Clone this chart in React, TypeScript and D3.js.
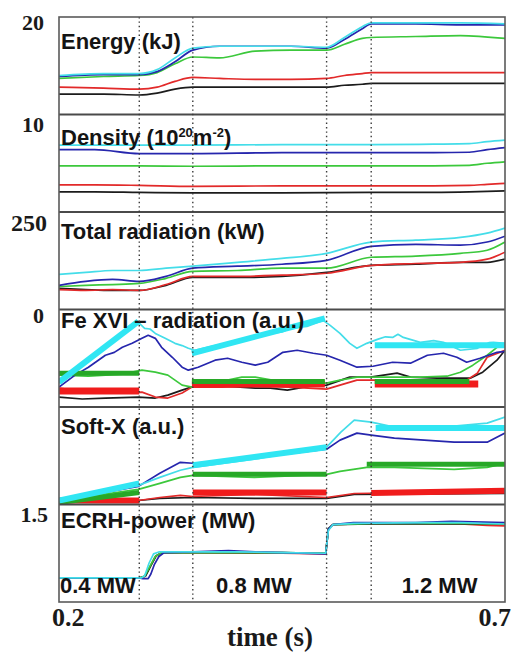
import React from 'react';
import * as d3 from 'd3';

type Pt = [number, number];

const W = 514;
const H = 653;
const LEFT = 59;
const RIGHT = 505;
const TOP = 17;
const BOTTOM = 602;

const colors: Record<string, string> = {
  black: '#1c1c1c',
  red: '#e22a2a',
  green: '#3cc83c',
  blue: '#2626ad',
  cyan: '#44dde9',
};
const fitColors: Record<string, string> = {
  red: '#f01c1c',
  green: '#27a827',
  cyan: '#30e6f3',
};

// markers of the heating phases (s)
const phaseTimes = [0.29, 0.35, 0.5, 0.55];

// ---- Energy (kJ)
const energyT = [0.2, 0.25, 0.29, 0.31, 0.33, 0.35, 0.38, 0.42, 0.46, 0.5, 0.52, 0.54, 0.55, 0.6, 0.65, 0.7];
const energyCyan = [14.0, 14.2, 14.2, 14.6, 15.8, 16.8, 17.0, 17.0, 17.0, 16.9, 17.9, 19.0, 19.4, 19.4, 19.4, 19.3];
const energyBlue = [13.9, 14.1, 14.1, 14.4, 15.4, 16.6, 17.0, 17.0, 17.0, 16.8, 17.7, 18.8, 19.3, 19.3, 19.2, 19.2];
const energyGreen = [13.7, 13.9, 14.0, 14.3, 15.2, 15.9, 15.8, 16.5, 16.6, 16.6, 17.2, 17.8, 17.9, 18.0, 18.1, 17.8];
const energyRed = [12.8, 12.7, 12.6, 12.8, 13.4, 13.8, 13.7, 13.6, 13.6, 13.7, 14.0, 14.2, 14.3, 14.3, 14.3, 14.3];
const energyBlack = [12.1, 12.1, 12.0, 12.2, 12.6, 12.8, 12.8, 12.8, 12.8, 12.8, 13.0, 13.1, 13.2, 13.2, 13.2, 13.2];

// ---- Density (10^20 m^-2)
const densityT = [0.2, 0.24, 0.29, 0.35, 0.45, 0.55, 0.62, 0.66, 0.68, 0.7];
const densityCyan = [6.86, 6.86, 6.86, 6.86, 6.91, 6.91, 6.96, 7.01, 7.22, 7.37];
const densityBlue = [6.39, 6.39, 5.98, 5.98, 6.08, 6.08, 6.08, 6.13, 6.39, 6.6];
const densityGreen = [4.74, 4.74, 4.74, 4.69, 4.74, 4.74, 4.74, 4.79, 5.0, 5.15];
const densityRed = [2.78, 2.78, 2.73, 2.63, 2.68, 2.68, 2.68, 2.73, 2.84, 2.94];
const densityBlack = [2.06, 2.06, 2.01, 1.96, 1.96, 2.01, 2.01, 2.06, 2.11, 2.16];

// ---- Total radiation (kW)
const radT = [0.2, 0.23, 0.26, 0.29, 0.32, 0.35, 0.4, 0.45, 0.5, 0.55, 0.6, 0.65, 0.68, 0.7];
const radCyan = [90, 95, 100, 100, 106, 111, 121, 131, 144, 173, 178, 185, 196, 209];
const radBlue = [62, 72, 77, 72, 85, 106, 111, 116, 126, 162, 167, 165, 173, 188];
const radGreen = [59, 62, 64, 67, 80, 98, 100, 106, 106, 134, 137, 144, 152, 173];
const radRed = [51, 49, 51, 49, 64, 85, 85, 88, 93, 113, 118, 121, 129, 147];
const radBlack = [54, 51, 49, 49, 62, 82, 82, 85, 95, 113, 116, 121, 121, 129];

// ---- Fe XVI radiation (a.u.)
const feCyan: Pt[] = [[0.2, 0.245], [0.289, 0.867], [0.296, 0.806], [0.302, 0.8], [0.308, 0.755], [0.319, 0.704], [0.33, 0.653], [0.338, 0.63], [0.345, 0.602], [0.352, 0.582], [0.37, 0.62], [0.392, 0.663], [0.42, 0.735], [0.437, 0.755], [0.45, 0.77], [0.459, 0.806], [0.478, 0.827], [0.496, 0.888], [0.504, 0.837], [0.515, 0.755], [0.526, 0.653], [0.534, 0.602], [0.545, 0.653], [0.557, 0.694], [0.566, 0.72], [0.574, 0.714], [0.58, 0.745], [0.586, 0.714], [0.605, 0.663], [0.62, 0.68], [0.631, 0.663], [0.65, 0.582], [0.669, 0.602], [0.682, 0.66], [0.687, 0.663], [0.7, 0.653]];
const feBlue: Pt[] = [[0.2, 0.204], [0.218, 0.327], [0.233, 0.408], [0.252, 0.531], [0.262, 0.56], [0.271, 0.612], [0.282, 0.653], [0.293, 0.704], [0.3, 0.735], [0.308, 0.704], [0.315, 0.612], [0.327, 0.51], [0.338, 0.408], [0.345, 0.378], [0.356, 0.408], [0.375, 0.48], [0.389, 0.5], [0.405, 0.459], [0.42, 0.429], [0.434, 0.459], [0.451, 0.561], [0.467, 0.582], [0.485, 0.551], [0.5, 0.531], [0.515, 0.48], [0.534, 0.408], [0.552, 0.418], [0.574, 0.459], [0.594, 0.449], [0.613, 0.531], [0.631, 0.551], [0.646, 0.51], [0.657, 0.459], [0.672, 0.5], [0.691, 0.561], [0.7, 0.571]];
const feGreen: Pt[] = [[0.2, 0.327], [0.233, 0.316], [0.271, 0.337], [0.293, 0.378], [0.308, 0.357], [0.322, 0.327], [0.338, 0.224], [0.349, 0.204], [0.36, 0.255], [0.389, 0.276], [0.405, 0.306], [0.42, 0.306], [0.439, 0.276], [0.47, 0.265], [0.5, 0.245], [0.515, 0.276], [0.534, 0.306], [0.568, 0.306], [0.605, 0.306], [0.635, 0.316], [0.65, 0.357], [0.664, 0.429], [0.68, 0.531], [0.691, 0.612], [0.7, 0.653]];
const feRed: Pt[] = [[0.2, 0.194], [0.233, 0.153], [0.271, 0.143], [0.293, 0.153], [0.308, 0.102], [0.322, 0.092], [0.338, 0.143], [0.349, 0.204], [0.383, 0.204], [0.42, 0.214], [0.459, 0.204], [0.5, 0.184], [0.515, 0.224], [0.534, 0.276], [0.582, 0.276], [0.627, 0.276], [0.657, 0.276], [0.669, 0.347], [0.68, 0.51], [0.7, 0.582]];
const feBlack: Pt[] = [[0.2, 0.102], [0.226, 0.082], [0.252, 0.092], [0.289, 0.102], [0.308, 0.092], [0.322, 0.122], [0.338, 0.173], [0.352, 0.214], [0.386, 0.214], [0.42, 0.194], [0.437, 0.194], [0.456, 0.173], [0.481, 0.214], [0.5, 0.224], [0.526, 0.306], [0.549, 0.306], [0.579, 0.347], [0.594, 0.306], [0.624, 0.296], [0.661, 0.296], [0.675, 0.357], [0.691, 0.48], [0.7, 0.582]];
// straight-line fits: [t0, v0, t1, v1]
const feFitCyan = [[0.2, 0.255, 0.289, 0.878], [0.349, 0.551, 0.498, 0.908], [0.554, 0.633, 0.7, 0.633]];
const feFitGreen = [[0.2, 0.347, 0.29, 0.347], [0.349, 0.262, 0.498, 0.262], [0.554, 0.262, 0.66, 0.262]];
const feFitRed = [[0.2, 0.163, 0.29, 0.163], [0.349, 0.236, 0.498, 0.236], [0.554, 0.236, 0.67, 0.236]];

// ---- Soft-X (a.u.)
const sxCyan: Pt[] = [[0.2, 0.041], [0.289, 0.196], [0.313, 0.278], [0.336, 0.351], [0.35, 0.381], [0.425, 0.474], [0.5, 0.588], [0.516, 0.742], [0.531, 0.866], [0.55, 0.845], [0.576, 0.794], [0.643, 0.804], [0.68, 0.835], [0.7, 0.897]];
const sxBlue: Pt[] = [[0.2, 0.041], [0.289, 0.186], [0.313, 0.32], [0.336, 0.433], [0.35, 0.423], [0.395, 0.454], [0.425, 0.485], [0.5, 0.567], [0.515, 0.66], [0.534, 0.732], [0.55, 0.711], [0.576, 0.68], [0.643, 0.639], [0.68, 0.639], [0.7, 0.732]];
const sxGreen: Pt[] = [[0.2, 0.041], [0.289, 0.155], [0.313, 0.216], [0.336, 0.278], [0.35, 0.299], [0.419, 0.278], [0.5, 0.309], [0.515, 0.34], [0.545, 0.381], [0.576, 0.381], [0.643, 0.361], [0.68, 0.381], [0.7, 0.423]];
const sxRed: Pt[] = [[0.2, 0.021], [0.289, 0.041], [0.313, 0.072], [0.336, 0.093], [0.35, 0.082], [0.419, 0.103], [0.5, 0.072], [0.531, 0.113], [0.7, 0.134]];
const sxBlack: Pt[] = [[0.2, 0.021], [0.289, 0.041], [0.313, 0.062], [0.35, 0.072], [0.419, 0.062], [0.5, 0.062], [0.531, 0.103], [0.7, 0.113]];
const sxFitCyan = [[0.2, 0.041, 0.29, 0.216], [0.35, 0.402, 0.5, 0.588], [0.555, 0.784, 0.7, 0.784]];
const sxFitGreen = [[0.2, 0.02, 0.29, 0.124], [0.35, 0.309, 0.5, 0.309], [0.545, 0.412, 0.7, 0.412]];
const sxFitRed = [[0.2, 0.041, 0.29, 0.041], [0.35, 0.124, 0.5, 0.124], [0.55, 0.118, 0.7, 0.14]];

// ---- ECRH power (MW)
const ecrhCyan: Pt[] = [[0.2, 0.37], [0.25, 0.37], [0.292, 0.37], [0.296, 0.4], [0.301, 0.6], [0.306, 0.74], [0.312, 0.77], [0.35, 0.77], [0.4, 0.77], [0.45, 0.76], [0.499, 0.75], [0.502, 1.1], [0.507, 1.19], [0.53, 1.21], [0.6, 1.22], [0.65, 1.22], [0.7, 1.2]];
const ecrhBlue: Pt[] = [[0.2, 0.37], [0.25, 0.37], [0.29, 0.37], [0.294, 0.36], [0.3, 0.36], [0.303, 0.43], [0.307, 0.58], [0.312, 0.7], [0.318, 0.76], [0.35, 0.77], [0.39, 0.79], [0.42, 0.77], [0.45, 0.76], [0.499, 0.74], [0.502, 1.12], [0.507, 1.19], [0.53, 1.22], [0.6, 1.22], [0.64, 1.24], [0.7, 1.22]];
const ecrhGreen: Pt[] = [[0.2, 0.37], [0.29, 0.37], [0.296, 0.4], [0.302, 0.55], [0.308, 0.7], [0.315, 0.76], [0.35, 0.76], [0.45, 0.76], [0.499, 0.75], [0.502, 1.12], [0.507, 1.19], [0.55, 1.21], [0.65, 1.21], [0.7, 1.2]];
const ecrhRed: Pt[] = [[0.2, 0.37], [0.29, 0.37], [0.296, 0.39], [0.302, 0.54], [0.308, 0.7], [0.315, 0.76], [0.35, 0.76], [0.45, 0.75], [0.499, 0.74], [0.502, 1.12], [0.507, 1.19], [0.55, 1.21], [0.65, 1.2], [0.68, 1.18], [0.7, 1.17]];
const ecrhBlack: Pt[] = [[0.2, 0.37], [0.29, 0.37], [0.297, 0.4], [0.303, 0.56], [0.309, 0.71], [0.316, 0.76], [0.35, 0.76], [0.45, 0.76], [0.499, 0.75], [0.502, 1.13], [0.507, 1.19], [0.55, 1.2], [0.7, 1.2]];
const powerLabels = ['0.4 MW', '0.8 MW', '1.2 MW'];
const powerLabelT = [0.2, 0.375, 0.583];

const zipT = (t: number[], v: number[]): Pt[] => t.map((d, i) => [d, v[i]]);

interface Panel {
  title: React.ReactNode;
  titleDy: number;
  domain: [number, number];
  tick?: string;
  tickDy?: number;
  tickX?: number;
  tickSize?: number;
  smooth: boolean;
  series: { key: string; pts: Pt[] }[];
  fits?: { key: string; segs: number[][]; width: number }[];
}

const panels: Panel[] = [
  {
    title: 'Energy (kJ)', titleDy: 32, domain: [10, 20], tick: '20', tickDy: 13, tickX: 44, smooth: true,
    series: [
      { key: 'black', pts: zipT(energyT, energyBlack) },
      { key: 'red', pts: zipT(energyT, energyRed) },
      { key: 'green', pts: zipT(energyT, energyGreen) },
      { key: 'blue', pts: zipT(energyT, energyBlue) },
      { key: 'cyan', pts: zipT(energyT, energyCyan) },
    ],
  },
  {
    title: (
      <>
        Density (10<tspan fontSize={13} dy={-8}>20</tspan>
        <tspan dy={8}>m</tspan>
        <tspan fontSize={13} dy={-8}>-2</tspan>
        <tspan dy={8}>)</tspan>
      </>
    ),
    titleDy: 30, domain: [0, 10], tick: '10', tickDy: 17, tickX: 44, smooth: true,
    series: [
      { key: 'black', pts: zipT(densityT, densityBlack) },
      { key: 'red', pts: zipT(densityT, densityRed) },
      { key: 'green', pts: zipT(densityT, densityGreen) },
      { key: 'blue', pts: zipT(densityT, densityBlue) },
      { key: 'cyan', pts: zipT(densityT, densityCyan) },
    ],
  },
  {
    title: 'Total radiation (kW)', titleDy: 27, domain: [0, 250], tick: '250', tickDy: 19, tickX: 47, tickSize: 24,
    smooth: true,
    series: [
      { key: 'black', pts: zipT(radT, radBlack) },
      { key: 'red', pts: zipT(radT, radRed) },
      { key: 'green', pts: zipT(radT, radGreen) },
      { key: 'blue', pts: zipT(radT, radBlue) },
      { key: 'cyan', pts: zipT(radT, radCyan) },
    ],
  },
  {
    title: 'Fe XVI \u2013 radiation (a.u.)', titleDy: 18, domain: [0, 1], tick: '0', tickDy: 13, tickX: 44,
    smooth: false,
    series: [
      { key: 'black', pts: feBlack },
      { key: 'red', pts: feRed },
      { key: 'green', pts: feGreen },
      { key: 'blue', pts: feBlue },
      { key: 'cyan', pts: feCyan },
    ],
    fits: [
      { key: 'red', segs: feFitRed, width: 7 },
      { key: 'green', segs: feFitGreen, width: 5 },
      { key: 'cyan', segs: feFitCyan, width: 6 },
    ],
  },
  {
    title: 'Soft-X (a.u.)', titleDy: 27, domain: [0, 1], smooth: false,
    series: [
      { key: 'black', pts: sxBlack },
      { key: 'red', pts: sxRed },
      { key: 'green', pts: sxGreen },
      { key: 'blue', pts: sxBlue },
      { key: 'cyan', pts: sxCyan },
    ],
    fits: [
      { key: 'red', segs: sxFitRed, width: 6 },
      { key: 'green', segs: sxFitGreen, width: 5 },
      { key: 'cyan', segs: sxFitCyan, width: 6 },
    ],
  },
  {
    title: 'ECRH-power (MW)', titleDy: 23, domain: [0, 1.5], tick: '1.5', tickDy: 17, tickX: 48, smooth: false,
    series: [
      { key: 'red', pts: ecrhRed },
      { key: 'black', pts: ecrhBlack },
      { key: 'green', pts: ecrhGreen },
      { key: 'blue', pts: ecrhBlue },
      { key: 'cyan', pts: ecrhCyan },
    ],
  },
];

const App: React.FC = () => {
  const x = d3.scaleLinear().domain([0.2, 0.7]).range([LEFT, RIGHT]);
  const band = d3.scaleBand<number>().domain(d3.range(panels.length)).range([TOP, BOTTOM]);
  const ph = band.bandwidth();
  const sans = "'Liberation Sans', Arial, sans-serif";
  const serif = "'Liberation Serif', 'Times New Roman', serif";

  return (
    <svg width={W} height={H} style={{ position: 'absolute', left: 0, top: 0, background: '#fff' }}>
      <defs>
        {panels.map((_, i) => (
          <clipPath id={`clip${i}`} key={i}>
            <rect x={LEFT} y={band(i)!} width={RIGHT - LEFT} height={ph} />
          </clipPath>
        ))}
      </defs>
      {panels.map((p, i) => {
        const top = band(i)!;
        const y = d3.scaleLinear().domain(p.domain).range([top + ph, top]);
        const line = d3.line<Pt>()
          .x((d) => x(d[0]))
          .y((d) => y(d[1]))
          .curve(p.smooth ? d3.curveMonotoneX : d3.curveLinear);
        return (
          <g key={i}>
            <g clipPath={`url(#clip${i})`}>
              {p.series.map((s) => (
                <path key={s.key} d={line(s.pts) || ''} fill="none" stroke={colors[s.key]}
                  strokeWidth={1.7} strokeLinejoin="round" />
              ))}
              {p.fits?.map((f) =>
                f.segs.map((sg, j) => (
                  <line key={f.key + j} x1={x(sg[0])} y1={y(sg[1])} x2={x(sg[2])} y2={y(sg[3])}
                    stroke={fitColors[f.key]} strokeWidth={f.width} />
                ))
              )}
            </g>
            <text x={LEFT + 2} y={top + p.titleDy} fontFamily={sans} fontWeight="bold" fontSize={22} fill="#141414">
              {p.title}
            </text>
            {p.tick && (
              <text x={p.tickX || 45} y={top + (p.tickDy || 0)} textAnchor="end" fontFamily={serif}
                fontWeight="bold" fontSize={p.tickSize || 22} fill="#1a1a1a">
                {p.tick}
              </text>
            )}
            {i > 0 && (
              <line x1={LEFT} x2={RIGHT} y1={top} y2={top} stroke="#4a4a4a" strokeWidth={2.2} />
            )}
          </g>
        );
      })}
      {phaseTimes.map((t) => (
        <line key={t} x1={x(t)} x2={x(t)} y1={TOP} y2={BOTTOM} stroke="#3a3a3a" strokeWidth={1.4}
          strokeDasharray="1.4 3" />
      ))}
      {powerLabels.map((lbl, i) => (
        <text key={lbl} x={x(powerLabelT[i]) + 1} y={band(5)! + 88} fontFamily={sans} fontWeight="bold"
          fontSize={22} fill="#141414">
          {lbl}
        </text>
      ))}
      <rect x={LEFT} y={TOP} width={RIGHT - LEFT} height={BOTTOM - TOP} fill="none" stroke="#5a5a5a" strokeWidth={1.6} />
      <text x={x(0.2) - 7} y={BOTTOM + 24} fontFamily={serif} fontWeight="bold" fontSize={26} fill="#1a1a1a">0.2</text>
      <text x={x(0.7) + 6} y={BOTTOM + 24} textAnchor="end" fontFamily={serif} fontWeight="bold" fontSize={26}
        fill="#1a1a1a">0.7</text>
      <text x={270} y={646} textAnchor="middle" fontFamily={serif} fontWeight="bold" fontSize={27} fill="#1a1a1a">
        time (s)
      </text>
    </svg>
  );
};

export default App;
